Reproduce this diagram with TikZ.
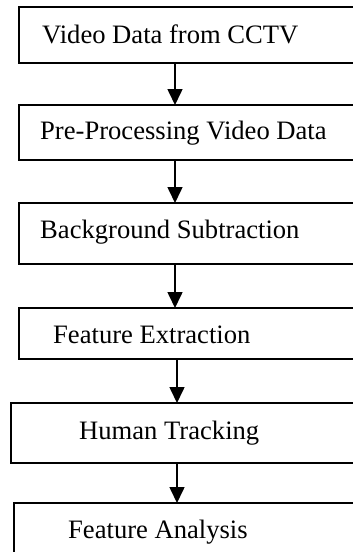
\documentclass[tikz,border=0pt]{standalone}
\usepackage{fontspec}
\setmainfont{Liberation Serif}
\usetikzlibrary{arrows.meta}
\begin{document}
\begin{tikzpicture}[x=1pt,y=-1pt,
  stepbox/.style={draw,line width=1.5pt,rectangle,anchor=north west,inner sep=0pt,outer sep=0pt},
  lbl/.style={anchor=base west,inner sep=0pt,font=\fontsize{26.6}{30}\selectfont},
  arr/.style={line width=1.6pt,-{Triangle[length=16pt,width=15pt]}}]
\useasboundingbox (0,0) rectangle (353,552);
\clip (0,0) rectangle (353,552);
\node[stepbox,minimum width=360pt,minimum height=56pt] (b1) at (19,7) {};
\node[stepbox,minimum width=360pt,minimum height=55pt] (b2) at (19,105) {};
\node[stepbox,minimum width=360pt,minimum height=61pt] (b3) at (19,203) {};
\node[stepbox,minimum width=360pt,minimum height=51pt] (b4) at (19,308) {};
\node[stepbox,minimum width=360pt,minimum height=60pt] (b5) at (11,403) {};
\node[stepbox,minimum width=360pt,minimum height=70pt] (b6) at (14,503) {};
\node[lbl] (t1) at (42,43) {Video Data from CCTV};
\node[lbl] (t2) at (40,139) {Pre-Processing Video Data};
\node[lbl] (t3) at (40,238) {Background Subtraction};
\node[lbl] (t4) at (53,343) {Feature Extraction};
\node[lbl] (t5) at (79,439) {Human Tracking};
\node[lbl] (t6) at (68,538) {Feature Analysis};
\coordinate (xa) at (175,0);
\coordinate (xb) at (177,0);
\draw[arr] (b1.south -| xa) -- (b2.north -| xa);
\draw[arr] (b2.south -| xa) -- (b3.north -| xa);
\draw[arr] (b3.south -| xa) -- (b4.north -| xa);
\draw[arr] (b4.south -| xb) -- (b5.north -| xb);
\draw[arr] (b5.south -| xb) -- (b6.north -| xb);
\end{tikzpicture}
\end{document}
